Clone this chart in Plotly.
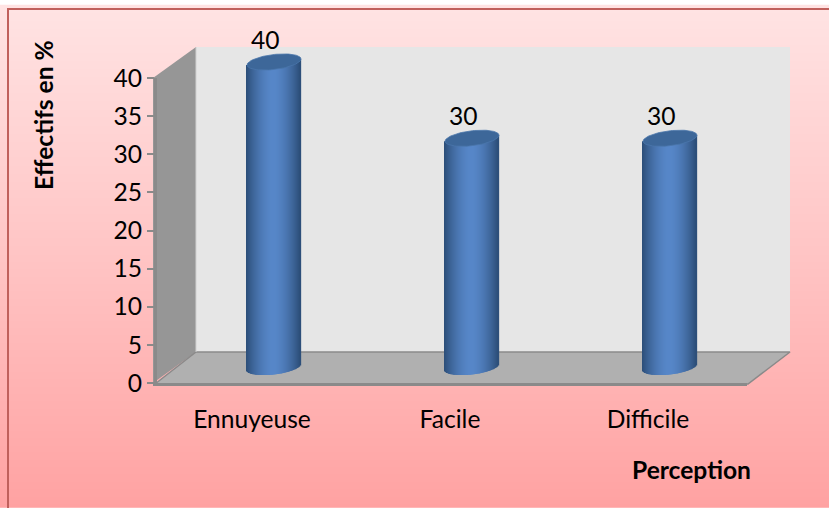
import numpy as np
import plotly.graph_objects as go

# ---- data ----
categories = ["Ennuyeuse", "Facile", "Difficile"]
values = [40, 30, 30]
y_ticks = [0, 5, 10, 15, 20, 25, 30, 35, 40]

W, H = 829, 508
FONT = "Lato, Carlito, Calibri, sans-serif"

def hx(f):
    return f / W
def vy(p):
    return 1 - p / H

fig = go.Figure()

# --- background + walls on full-page pixel axes (xaxis / yaxis)
ys = np.linspace(9, 508, 60)
fig.add_trace(go.Heatmap(
    x=[8, 829], y=ys, z=[[v, v] for v in ys], zmin=9, zmax=508,
    colorscale=[[0, "#ffe3e3"], [0.5, "#ffc4c4"], [1, "#ffa2a2"]],
    showscale=False, zsmooth="best", hoverinfo="skip"))

def poly(xs, ys_, fill, line=None, lw=0):
    fig.add_trace(go.Scatter(x=xs, y=ys_, mode="lines", fill="toself", fillcolor=fill,
                             line=dict(color=line or fill, width=lw), hoverinfo="skip",
                             showlegend=False))

poly([196, 790, 790, 196, 196], [47, 47, 352, 352, 47], "#e6e6e6", "#e6e6e6", 0)
poly([153, 196, 196, 153, 153], [78, 47, 352, 383, 78], "#969696", "#969696", 0)
poly([155, 196, 790, 748, 155], [384, 352, 352, 384, 384], "#b0b0b0", "#8a8a8a", 1.5)
fig.add_trace(go.Scatter(x=[196, 196], y=[47, 352], mode="lines",
                         line=dict(color="#d0d0d0", width=1), hoverinfo="skip", showlegend=False))
# chart border (top and left only are inside the picture)
fig.add_trace(go.Scatter(x=[8, 8, 829], y=[508, 9, 9], mode="lines",
                         line=dict(color="#c0605c", width=2), hoverinfo="skip", showlegend=False))

# --- cylinders on their own axes (xaxis2 / yaxis2)
PX_X = 198.0      # pixels per category
PX_Y = 7.625      # pixels per unit
HALF = 27.0       # half width, px
B = 7.5           # ellipse minor, px
TILT = 3.0        # px rise at right end

c_edge = np.array([0x2c, 0x4e, 0x78])
c_mid = np.array([0x57, 0x87, 0xc9])

off = np.arange(-HALF + 0.5, HALF, 1.0)
bx, by, bb, bc = [], [], [], []
for i, v in enumerate(values):
    for d in off:
        u = d / HALF
        t = abs(u) ** 1.7
        col = c_mid * (1 - t) + c_edge * t
        shear = TILT * u
        arc = B * np.sqrt(max(1 - u * u, 0))
        bx.append(i + d / PX_X)
        by.append(v + shear / PX_Y)
        bb.append((shear - arc) / PX_Y)
        bc.append("rgb(%d,%d,%d)" % tuple(col))

fig.add_trace(go.Bar(x=bx, y=[t - b for t, b in zip(by, bb)], base=bb, width=1.3 / PX_X,
                     marker=dict(color=bc, line=dict(width=0)), xaxis="x2", yaxis="y2",
                     hoverinfo="skip", showlegend=False))

# tops of the cylinders
theta = np.linspace(0, 2 * np.pi, 90)
for i, v in enumerate(values):
    ex = HALF * np.cos(theta)
    ey = TILT * np.cos(theta) + B * np.sin(theta)
    fig.add_trace(go.Scatter(x=i + ex / PX_X, y=v + ey / PX_Y, mode="lines", fill="toself",
                             fillcolor="#3d6799", line=dict(color="#4a76ab", width=0.8),
                             xaxis="x2", yaxis="y2", hoverinfo="skip", showlegend=False))

# --- visible axes on the front plane (xaxis3 / yaxis3)
fig.add_trace(go.Scatter(x=categories, y=values, mode="markers", marker=dict(opacity=0),
                         xaxis="x3", yaxis="y3", hoverinfo="skip", showlegend=False))

annotations = []
for i, v in enumerate(values):
    annotations.append(dict(x=i, y=v, xref="x2", yref="y2", text=str(v), showarrow=False,
                            xshift=-9, yshift=23, yanchor="middle", xanchor="center",
                            font=dict(family=FONT, size=24.6, color="#000")))
annotations.append(dict(x=hx(43), y=vy(115), xref="paper", yref="paper", text="<b>Effectifs en %</b>",
                        textangle=-90, showarrow=False, xanchor="center", yanchor="middle",
                        font=dict(family=FONT, size=24.6, color="#000")))
annotations.append(dict(x=hx(691), y=vy(469), xref="paper", yref="paper", text="<b>Perception</b>",
                        showarrow=False, xanchor="center", yanchor="middle",
                        font=dict(family=FONT, size=24.6, color="#000")))

fig.update_layout(
    template="none",
    width=W, height=H, autosize=False, margin=dict(l=0, r=0, t=0, b=0, pad=0),
    paper_bgcolor="white", plot_bgcolor="rgba(0,0,0,0)", showlegend=False,
    font=dict(family=FONT, size=24.6, color="#000"),
    barmode="overlay",
    xaxis=dict(domain=[0, 1], range=[0, W], visible=False, fixedrange=True, automargin=False),
    yaxis=dict(domain=[0, 1], range=[H, 0], visible=False, fixedrange=True, automargin=False),
    xaxis2=dict(domain=[hx(175), hx(175 + 3 * PX_X)], range=[-0.5, 2.5], visible=False,
                anchor="y2", fixedrange=True, automargin=False),
    yaxis2=dict(domain=[vy(367 + 10 * PX_Y), vy(367 - 45 * PX_Y)], range=[-10, 45], visible=False,
                anchor="x2", fixedrange=True, automargin=False),
    xaxis3=dict(domain=[hx(153), hx(747)], type="category", categoryorder="array",
                categoryarray=categories, range=[-0.5, 2.5], showgrid=False, zeroline=False,
                showline=True, linecolor="#8a8a8a", linewidth=3, ticks="", anchor="y3",
                ticklabelstandoff=12, tickfont=dict(family=FONT, size=24.6), fixedrange=True,
                automargin=False),
    yaxis3=dict(domain=[vy(383), vy(78)], range=[0, 40], tickvals=y_ticks, showgrid=False,
                zeroline=False, showline=True, linecolor="#8a8a8a", linewidth=3, ticks="outside",
                ticklen=7, tickcolor="#8a8a8a", tickwidth=1.5, anchor="free", position=hx(155),
                overlaying=None, tickfont=dict(family=FONT, size=24.6), fixedrange=True,
                automargin=False),
    annotations=annotations,
)

fig.write_html("out.html", config={"displayModeBar": False},
               post_script="document.body.style.margin='0';document.body.style.overflow='hidden';")
